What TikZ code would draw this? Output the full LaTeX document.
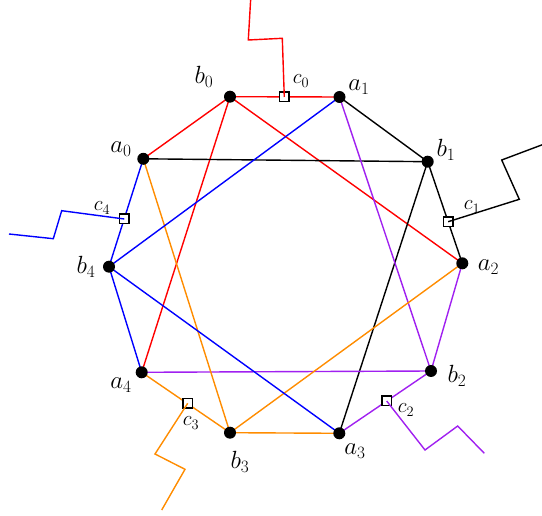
\documentclass[tikz,border=0pt]{standalone}
\usepackage{tikz}
\definecolor{myred}{RGB}{255,0,0}
\definecolor{myblue}{RGB}{0,0,255}
\definecolor{mypurple}{RGB}{160,32,240}
\definecolor{myorange}{RGB}{255,140,0}
\tikzset{
  edge/.style={line width=1.4pt},
  vtx/.style={circle,fill=black,inner sep=0pt,minimum size=12pt},
  sq/.style={draw=black,fill=white,line width=1.5pt,inner sep=0pt,minimum size=9.5pt},
  lab/.style={font=\fontsize{23.5}{27}\selectfont,inner sep=0pt},
  clab/.style={font=\fontsize{21}{25}\selectfont,inner sep=0pt}
}
\begin{document}
\begin{tikzpicture}[x=1pt,y=-1pt]
\useasboundingbox (0,0) rectangle (542,516);
\clip (0,0) rectangle (542,516);
% vertices
\coordinate (b0) at (230,96.7);
\coordinate (a1) at (339.5,97);
\coordinate (b1) at (427.7,161.7);
\coordinate (a2) at (462.3,263.3);
\coordinate (b2) at (431,371);
\coordinate (a3) at (339.3,433.3);
\coordinate (b3) at (230,432.7);
\coordinate (a4) at (141.7,372.3);
\coordinate (b4) at (109,266.7);
\coordinate (a0) at (143.3,158.8);
% squares
\coordinate (c0) at (284.3,97);
\coordinate (c1) at (448.2,221.7);
\coordinate (c2) at (386.7,401);
\coordinate (c3) at (187.7,403.3);
\coordinate (c4) at (124.3,219);
% wire bends
\coordinate (r1) at (282.3,38.3);
\coordinate (r2) at (248.3,40);
\coordinate (r3) at (250.8,-3);
\coordinate (k1) at (519.3,199.3);
\coordinate (k2) at (501.7,160);
\coordinate (k3) at (548,142.6);
\coordinate (p1) at (425,450);
\coordinate (p2) at (457.7,426);
\coordinate (p3) at (484.3,453.3);
\coordinate (o1) at (155,454);
\coordinate (o2) at (185,469.3);
\coordinate (o3) at (161.7,510);
\coordinate (u1) at (61.7,210.7);
\coordinate (u2) at (53.3,238.7);
\coordinate (u3) at (9,234);
% edges
\draw[edge,myred] (b0) -- (a1) (a0) -- (b0) (b0) -- (a4) (b0) -- (a2);
\draw[edge,black] (a1) -- (b1) (a0) -- (b1) (b1) -- (a3) (b1) -- (a2);
\draw[edge,mypurple] (a1) -- (b2) (a4) -- (b2) (a2) -- (b2) (b2) -- (a3);
\draw[edge,myorange] (a0) -- (b3) (b3) -- (a2) (b3) -- (a3) (a4) -- (b3);
\draw[edge,myblue] (a1) -- (b4) (b4) -- (a3) (a0) -- (b4) (b4) -- (a4);
% squares
\foreach \c in {c0,c1,c2,c3,c4} \node[sq] (s\c) at (\c) {};
% wires
\draw[edge,myred] (c0) -- (r1) -- (r2) -- (r3);
\draw[edge,black] (c1) -- (k1) -- (k2) -- (k3);
\draw[edge,mypurple] (c2) -- (p1) -- (p2) -- (p3);
\draw[edge,myorange] (c3) -- (o1) -- (o2) -- (o3);
\draw[edge,myblue] (c4) -- (u1) -- (u2) -- (u3);
% dots
\foreach \v in {a0,a1,a2,a3,a4,b0,b1,b2,b3,b4} \node[vtx] (d\v) at (\v) {};
% labels
\node[lab] (lb0) at (204,77) {$b_0$};
\node[lab] (la1) at (359,87) {$a_1$};
\node[lab] (lb1) at (446,150) {$b_1$};
\node[lab] (la2) at (488.5,267) {$a_2$};
\node[lab] (lb2) at (457,376) {$b_2$};
\node[lab] (la3) at (355,451) {$a_3$};
\node[lab] (lb3) at (240,462) {$b_3$};
\node[lab] (la4) at (121,385) {$a_4$};
\node[lab] (lb4) at (86,267) {$b_4$};
\node[lab] (la0) at (121,149) {$a_0$};
\node[clab] (lc0) at (301,81) {$c_0$};
\node[clab] (lc1) at (472,207) {$c_1$};
\node[clab] (lc2) at (406,410) {$c_2$};
\node[clab] (lc3) at (191,423) {$c_3$};
\node[clab] (lc4) at (102,208) {$c_4$};
\end{tikzpicture}
\end{document}
